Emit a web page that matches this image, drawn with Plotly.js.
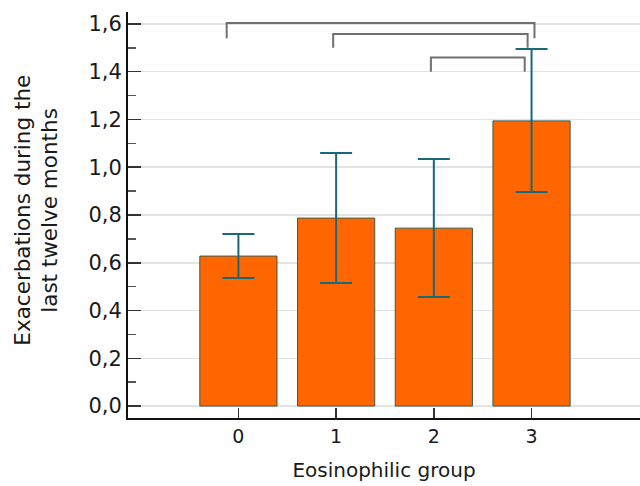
<!DOCTYPE html>
<html>
<head>
<meta charset="utf-8">
<script src="https://cdn.plot.ly/plotly-3.0.1.min.js"></script>
<style>html,body{margin:0;padding:0;background:#fff;}#chart{width:640px;height:486px;}</style>
</head>
<body>
<div id="chart"></div>
<script>
// Data
const groups = [0, 1, 2, 3];
const means = [0.628, 0.787, 0.745, 1.194];
const errUpper = [0.72, 1.06, 1.035, 1.495];
const errLower = [0.536, 0.515, 0.457, 0.896];
const tickVals = [0, 0.2, 0.4, 0.6, 0.8, 1.0, 1.2, 1.4, 1.6];
const tickText = ['0,0', '0,2', '0,4', '0,6', '0,8', '1,0', '1,2', '1,4', '1,6'];
const yTitleLines = ['Exacerbations during the', 'last twelve months'];
const xTitle = 'Eosinophilic group';
// Significance brackets
const bracketFrom = [-0.12, 0.97, 1.97];
const bracketTo = [3.03, 2.96, 2.93];
const bracketTop = [1.604, 1.558, 1.46];
const bracketLeg = [1.54, 1.50, 1.40];

const FONT = 'DejaVu Sans, Liberation Sans, Arial, sans-serif';
const TXT = '#1a1a1a';

const traces = [{
  type: 'bar',
  x: groups,
  y: means,
  width: 0.79,
  marker: {color: '#ff6600', line: {color: '#3b5b4a', width: 1}},
  error_y: {
    type: 'data', symmetric: false,
    array: means.map((m, i) => errUpper[i] - m),
    arrayminus: means.map((m, i) => m - errLower[i]),
    color: '#19687a', thickness: 2, width: 16
  },
  hoverinfo: 'skip'
}];

for (let i = 0; i < bracketFrom.length; i++) {
  traces.push({
    type: 'scatter', mode: 'lines',
    x: [bracketFrom[i], bracketFrom[i], bracketTo[i], bracketTo[i]],
    y: [bracketLeg[i], bracketTop[i], bracketTop[i], bracketLeg[i]],
    line: {color: '#707070', width: 2},
    hoverinfo: 'skip'
  });
}

const yTitleX = [-0.206, -0.155];
const annotations = yTitleLines.map((t, i) => ({
  text: t, xref: 'paper', yref: 'paper', x: yTitleX[i], y: 0.512,
  xanchor: 'center', yanchor: 'middle', textangle: -90, showarrow: false,
  font: {family: FONT, size: 21.5, color: TXT}
}));

const layout = {
  width: 640, height: 486,
  margin: {l: 128, r: 0, t: 12, b: 68},
  paper_bgcolor: '#ffffff', plot_bgcolor: '#ffffff',
  showlegend: false,
  font: {family: FONT, color: TXT, size: 20},
  annotations: annotations,
  xaxis: {
    range: [-1.13, 4.11],
    tickvals: groups, ticktext: groups.map(String),
    ticks: 'inside', ticklen: 10, tickwidth: 1.5, tickcolor: '#333',
    showline: true, linecolor: '#111', linewidth: 2,
    showgrid: false, zeroline: false,
    tickfont: {family: FONT, size: 19, color: TXT},
    title: {text: xTitle, font: {family: FONT, size: 20, color: TXT}, standoff: 17}
  },
  yaxis: {
    range: [-0.05, 1.65],
    tickvals: tickVals, ticktext: tickText,
    ticks: 'inside', ticklen: 13, tickwidth: 1.5, tickcolor: '#333',
    ticklabelstandoff: 0,
    minor: {dtick: 0.1, tick0: 0, ticks: 'inside', ticklen: 8, tickcolor: '#555', showgrid: false},
    showline: true, linecolor: '#111', linewidth: 2,
    showgrid: true, gridcolor: '#e3e3e3', gridwidth: 1.5,
    zeroline: false,
    tickfont: {family: FONT, size: 21, color: TXT}
  }
};

Plotly.newPlot('chart', traces, layout, {displayModeBar: false, staticPlot: true});
</script>
</body>
</html>
